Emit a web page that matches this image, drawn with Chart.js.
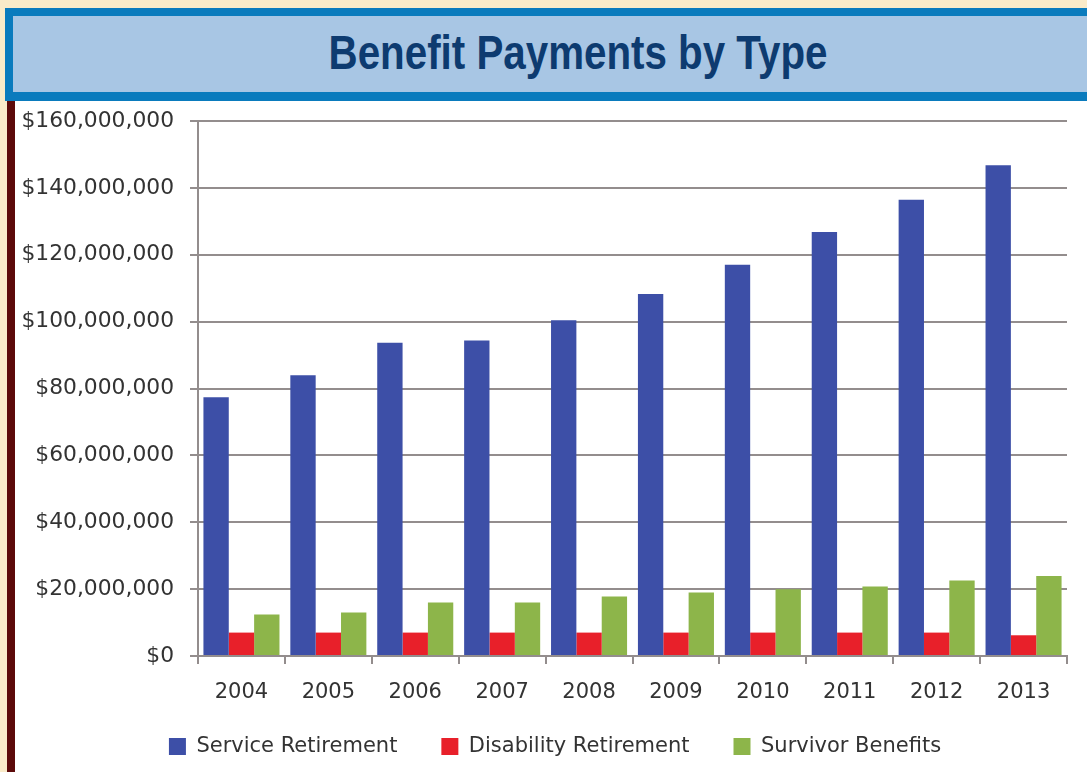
<!DOCTYPE html>
<html>
<head>
<meta charset="utf-8">
<script src="https://cdn.jsdelivr.net/npm/chart.js@4"></script>
<style>
  body { margin: 0; width: 1087px; height: 772px; background: #faebc9; overflow: hidden; position: relative; }
  #banner { position: absolute; left: 5px; top: 8px; width: 1100px; height: 76px; background: #a8c6e4; border: 8px solid #0a7bbd; border-bottom-width: 9px; }
  #titre { position: absolute; left: 0; top: 29px; width: 1156px; height: 48px; line-height: 48px; text-align: center;
           font-family: "Liberation Sans", Arial, sans-serif; font-weight: bold; font-size: 48px; color: #0d3b70;
           transform: scaleX(0.84); transform-origin: 578px 50%; }
  #faixa { position: absolute; left: 7px; top: 101px; width: 8px; height: 671px; background: #5c0a0a; }
  #caixa { position: absolute; left: 15px; top: 101px; width: 1072px; height: 671px; background: #ffffff; }
  #beneficios { position: absolute; left: 0; top: -9px; }
</style>
</head>
<body>
<div id="banner"></div>
<div id="titre">Benefit Payments by Type</div>
<div id="faixa"></div>
<div id="caixa"><canvas id="beneficios" width="1072" height="680"></canvas></div>
<script>
var anos = ['2004', '2005', '2006', '2007', '2008', '2009', '2010', '2011', '2012', '2013'];
var aposentadoriaServico = [77400000, 84000000, 93700000, 94400000, 100400000, 108300000, 117000000, 126800000, 136500000, 146800000];
var aposentadoriaInvalidez = [7000000, 7000000, 7000000, 7000000, 7000000, 7000000, 7000000, 7000000, 7000000, 6200000];
var beneficiosSobrevivente = [12400000, 13000000, 16000000, 16000000, 17800000, 19000000, 20000000, 20800000, 22600000, 23900000];
var ticksEixoY = [0, 20000000, 40000000, 60000000, 80000000, 100000000, 120000000, 140000000, 160000000];

var graficoBeneficios = null;
var corGrade = '#938d8d';
var fonte = { family: 'DejaVu Sans', size: 21 };

// os rótulos dos eixos passam do limite da caixa da escala; não recortar
var semRecorte = {
  id: 'semRecorte',
  afterLayout: function (chart) {
    Object.values(chart.scales).forEach(function (escala) {
      escala._computeLabelArea = function () { return undefined; };
    });
  }
};

function carregarGrafico() {
  if (graficoBeneficios) {
    graficoBeneficios.destroy();
  }

  graficoBeneficios = new Chart(
    document.getElementById('beneficios'),
    {
      type: 'bar',
      plugins: [semRecorte],
      data: {
        labels: anos,
        datasets: [
          { label: 'Service Retirement', data: aposentadoriaServico, backgroundColor: '#3d4fa7' },
          { label: 'Disability Retirement', data: aposentadoriaInvalidez, backgroundColor: '#e8202a' },
          { label: 'Survivor Benefits', data: beneficiosSobrevivente, backgroundColor: '#8db54a' }
        ]
      },
      options: {
        responsive: false,
        animation: false,
        layout: { padding: { top: 14, right: 20, left: 28, bottom: 5 } },
        datasets: {
          bar: { categoryPercentage: 0.875, barPercentage: 1.0 }
        },
        plugins: {
          legend: {
            position: 'bottom',
            labels: { boxWidth: 17, boxHeight: 17, padding: 44, color: '#333333', font: fonte }
          },
          tooltip: { enabled: false }
        },
        scales: {
          x: {
            afterFit: function (escala) { escala.height = 36; },
            grid: { display: true, drawOnChartArea: false, offset: true, tickLength: 8, color: corGrade, lineWidth: 2 },
            border: { color: corGrade, width: 2 },
            ticks: { color: '#333333', font: fonte, padding: 16 }
          },
          y: {
            min: 0,
            max: 160000000,
            afterFit: function (escala) { escala.width = 155; },
            afterBuildTicks: function (escala) { escala.ticks = ticksEixoY.map(v => ({ value: v })); },
            grid: { color: corGrade, lineWidth: 2, tickLength: 8 },
            border: { color: corGrade, width: 2 },
            ticks: {
              color: '#333333',
              font: { family: 'DejaVu Sans', size: 21.8 },
              padding: 16,
              callback: function (v) { return '$' + Number(v).toLocaleString('en-US'); }
            }
          }
        }
      }
    }
  );
}

carregarGrafico();
</script>
</body>
</html>
